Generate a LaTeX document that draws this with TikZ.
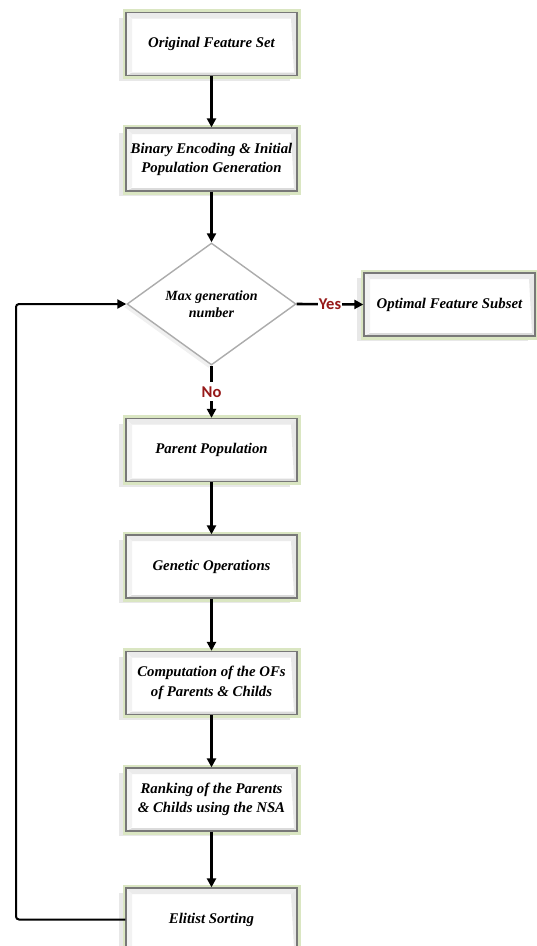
\documentclass[tikz,border=0pt]{standalone}
\usepackage{fontspec}
\setmainfont{Liberation Serif}
\newfontfamily\labfont{Carlito}
\usetikzlibrary{arrows.meta,shapes.geometric,shadows}
\definecolor{glow}{RGB}{218,230,194}
\definecolor{boxgray}{RGB}{120,120,120}
\definecolor{labred}{RGB}{150,25,25}
\tikzset{
  arr/.style={line width=2.6pt,-{Triangle[length=9pt,width=9pt]}},
  bevel/.style={path picture={
    \fill[gray!16] (path picture bounding box.north west) -- (path picture bounding box.north east)
      -- ([shift={(-6pt,-6pt)}]path picture bounding box.north east) -- ([shift={(6pt,-6pt)}]path picture bounding box.north west) -- cycle;
    \fill[gray!10] (path picture bounding box.north west) -- ([shift={(6pt,-6pt)}]path picture bounding box.north west)
      -- ([shift={(6pt,4pt)}]path picture bounding box.south west) -- (path picture bounding box.south west) -- cycle;
    \fill[gray!28] (path picture bounding box.south west) -- (path picture bounding box.south east)
      -- ([shift={(-3pt,3pt)}]path picture bounding box.south east) -- ([shift={(6pt,3pt)}]path picture bounding box.south west) -- cycle;
    \fill[gray!18] (path picture bounding box.north east) -- ([shift={(-6pt,-6pt)}]path picture bounding box.north east)
      -- ([shift={(-3pt,3pt)}]path picture bounding box.south east) -- (path picture bounding box.south east) -- cycle;
  }},
  box/.style={rectangle, minimum width=171pt, minimum height=63pt, inner sep=2pt,
    fill=white, draw=boxgray, line width=1.3pt, align=center,
    font=\bfseries\itshape\fontsize{14.8}{19.5}\selectfont,
    drop shadow={shadow xshift=-7pt, shadow yshift=-5pt, opacity=0.18, fill=gray},
    preaction={draw=glow, line width=7pt}, bevel},
  decide/.style={diamond, minimum width=169pt, minimum height=122pt, inner sep=0pt,
    fill=white, draw=gray!65, line width=1.4pt, align=center,
    font=\bfseries\itshape\fontsize{14}{16.5}\selectfont,
    drop shadow={shadow xshift=-3pt, shadow yshift=-3pt, opacity=0.12, fill=gray}},
  lab/.style={font=\labfont\bfseries\fontsize{16.5}{16.5}\selectfont, text=labred, fill=white,
    inner xsep=1pt, inner ysep=4pt}
}
\begin{document}
\begin{tikzpicture}[x=1pt,y=-1pt]
\useasboundingbox (0,0) rectangle (536,946);
\node[box] (orig) at (211.5,44) {Original Feature Set};
\node[box] (bin) at (211.5,159.5) {Binary Encoding \& Initial\\Population Generation};
\node[decide] (dia) at (211.5,304) {Max generation\\number};
\node[box] (opt) at (449.5,304.5) {Optimal Feature Subset};
\node[box] (par) at (211.5,450) {Parent Population};
\node[box] (gen) at (211.5,566.5) {Genetic Operations};
\node[box] (comp) at (211.5,683) {Computation of the OFs\\of Parents \& Childs};
\node[box] (rank) at (211.5,799.5) {Ranking of the Parents\\\& Childs using the NSA};
\node[box] (elit) at (211.5,919.5) {Elitist Sorting};
\coordinate (lp) at (16,600);
\draw[arr] (orig) -- (bin);
\draw[arr] (bin) -- (dia);
\draw[arr] (dia.east) -- node[lab] {Yes} (opt.west);
\draw[arr] (dia.south) -- node[lab] {No} (par.north);
\draw[arr] (par) -- (gen);
\draw[arr] (gen) -- (comp);
\draw[arr] (comp) -- (rank);
\draw[arr] (rank) -- (elit);
\draw[arr, line width=2pt, rounded corners=3pt] (elit.west) -- (elit.west -| lp) |- (dia.west);
\end{tikzpicture}
\end{document}
